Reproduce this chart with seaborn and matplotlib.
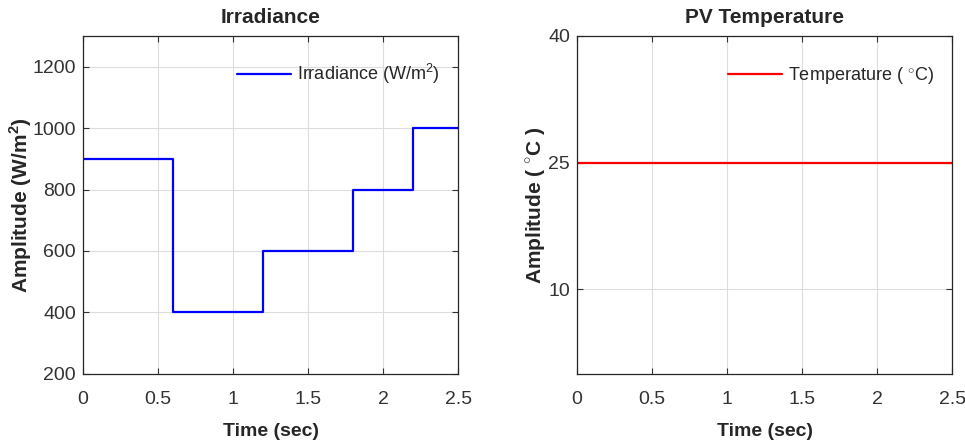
import matplotlib
matplotlib.use("Agg")
import matplotlib.pyplot as plt
import seaborn as sns
import pandas as pd

# Irradiance profile (step changes)
time_irr = [0.0, 0.6, 1.2, 1.8, 2.2, 2.5]
irradiance = [900, 400, 600, 800, 1000, 1000]

# PV temperature (constant)
time_temp = [0.0, 2.5]
temperature = [25, 25]

x_ticks = [0, 0.5, 1, 1.5, 2, 2.5]
x_tick_labels = ["0", "0.5", "1", "1.5", "2", "2.5"]
irr_ticks = [200, 400, 600, 800, 1000, 1200]
temp_ticks = [10, 25, 40]

sns.set_style("white")
plt.rcParams["font.family"] = ["Liberation Sans", "DejaVu Sans"]
plt.rcParams["mathtext.fontset"] = "custom"
plt.rcParams["mathtext.rm"] = "Liberation Sans"
plt.rcParams["mathtext.bf"] = "Liberation Sans:bold"

df_irr = pd.DataFrame({"Time": time_irr, "Irradiance": irradiance})
df_temp = pd.DataFrame({"Time": time_temp, "Temperature": temperature})

fig = plt.figure(figsize=(9.65, 4.43), dpi=100)
ax1 = fig.add_axes([0.086, 0.156, 0.389, 0.763])
ax2 = fig.add_axes([0.598, 0.156, 0.389, 0.763])

sns.lineplot(data=df_irr, x="Time", y="Irradiance", ax=ax1, color="#0000FF",
             linewidth=1.6, drawstyle="steps-post", estimator=None,
             label=r"Irradiance (W/m$^{2}$)")
sns.lineplot(data=df_temp, x="Time", y="Temperature", ax=ax2, color="#FF0000",
             linewidth=1.6, estimator=None,
             label=r"Temperature ( $^{\circ}$C)")

tick_color = "#333333"
for ax in (ax1, ax2):
    ax.set_xlim(0, 2.5)
    ax.set_xticks(x_ticks)
    ax.set_xticklabels(x_tick_labels)
    ax.grid(True, color="#DDDDDD", linewidth=0.8)
    ax.tick_params(direction="in", length=4, width=0.8, colors=tick_color,
                   labelsize=14, top=True, right=True,
                   bottom=True, left=True)
    ax.tick_params(axis="x", pad=12)
    ax.tick_params(axis="y", pad=5)
    for s in ax.spines.values():
        s.set_color("#262626")
        s.set_linewidth(0.9)
    ax.set_xlabel("Time (sec)", fontsize=14, fontweight="bold", color="#262626",
                  labelpad=11)

ax1.set_ylim(200, 1300)
ax1.set_yticks(irr_ticks)
ax1.set_title("Irradiance", fontsize=15, fontweight="bold", pad=9)
ax1.set_ylabel(r"Amplitude (W/m$^{\mathbf{2}}$)", fontsize=15, fontweight="bold",
               color="#262626")
ax1.yaxis.set_label_coords(-0.13, 0.5)

ax2.set_ylim(0, 40)
ax2.set_yticks(temp_ticks)
ax2.set_title("PV Temperature", fontsize=15, fontweight="bold", pad=9)
ax2.set_ylabel(r"Amplitude ( $^{\circ}$C )", fontsize=15, fontweight="bold",
               color="#262626")
ax2.yaxis.set_label_coords(-0.078, 0.5)

ax1.legend(loc="upper right", bbox_to_anchor=(0.984, 0.96), frameon=False,
           fontsize=13, handlelength=3.0, handletextpad=0.33, borderaxespad=0.3)
ax2.legend(loc="upper right", bbox_to_anchor=(0.984, 0.95), frameon=False,
           fontsize=13, handlelength=3.0, handletextpad=0.33, borderaxespad=0.3)

fig.savefig("out.png", dpi=100)
